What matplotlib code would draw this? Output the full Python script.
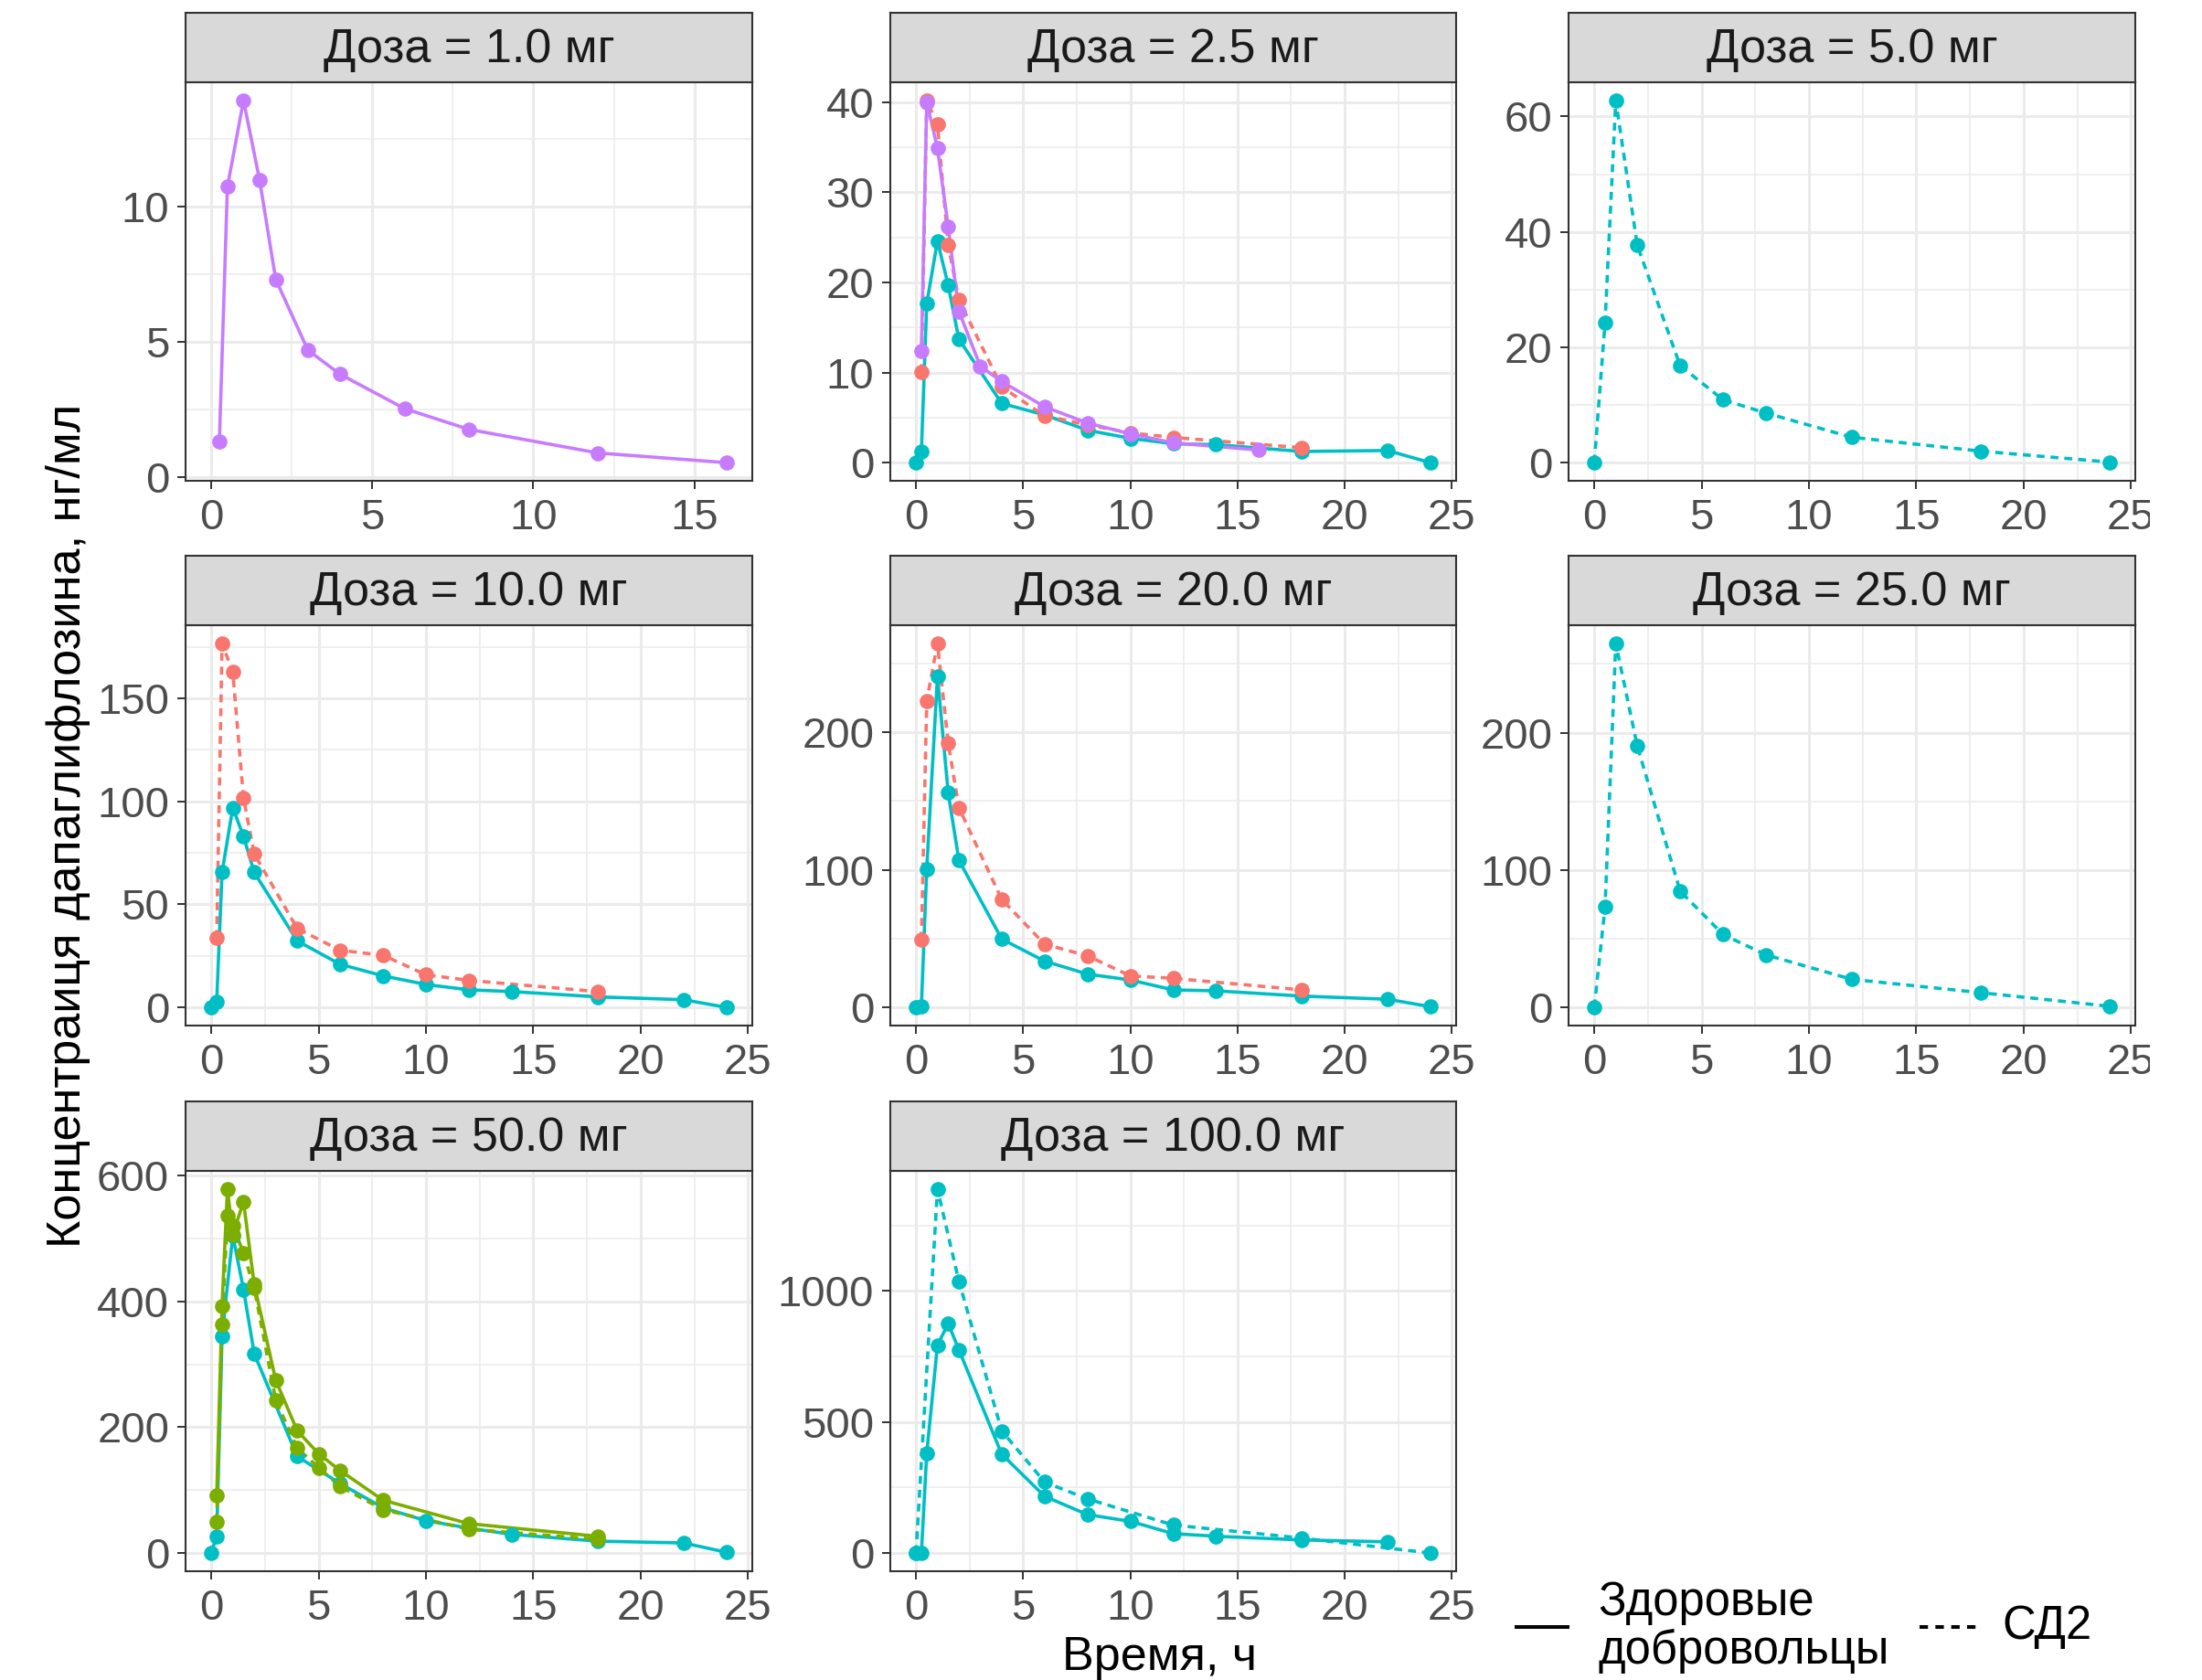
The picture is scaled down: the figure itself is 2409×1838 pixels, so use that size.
import matplotlib
matplotlib.use("Agg")
import matplotlib.pyplot as plt
from matplotlib.ticker import MultipleLocator, AutoMinorLocator, FuncFormatter
from matplotlib.lines import Line2D
from matplotlib.patches import Rectangle

plt.rcParams['font.family'] = ['Liberation Sans', 'DejaVu Sans']

# ---------------------------------------------------------------- data
doses = [1.0, 2.5, 5.0, 10.0, 20.0, 25.0, 50.0, 100.0]

# 1.0 mg
t_d1_purple_h = [0.25, 0.5, 1, 1.5, 2, 3, 4, 6, 8, 12, 16]
c_d1_purple_h = [1.32, 10.74, 13.94, 10.99, 7.32, 4.70, 3.81, 2.54, 1.77, 0.90, 0.54]

# 2.5 mg
t_d2_cyan_h = [0, 0.25, 0.5, 1, 1.5, 2, 4, 6, 8, 10, 12, 14, 18, 22, 24]
c_d2_cyan_h = [0, 1.24, 17.66, 24.6, 19.7, 13.7, 6.57, 5.3, 3.6, 2.7, 2.1, 2.0, 1.24, 1.35, 0]
t_d2_red_t2 = [0.25, 0.5, 1, 1.5, 2, 4, 6, 8, 10, 12, 18]
c_d2_red_t2 = [10.05, 40.2, 37.5, 24.2, 18.05, 8.4, 5.2, 4.2, 3.3, 2.8, 1.66]
t_d2_purple_h = [0.25, 0.5, 1, 1.5, 2, 3, 4, 6, 8, 10, 12, 16]
c_d2_purple_h = [12.44, 40.0, 34.9, 26.2, 16.8, 10.7, 9.0, 6.2, 4.4, 3.2, 2.2, 1.4]

# 5.0 mg
t_d5_cyan_t2 = [0, 0.5, 1, 2, 4, 6, 8, 12, 18, 24]
c_d5_cyan_t2 = [0, 24.3, 62.8, 37.7, 16.8, 10.9, 8.6, 4.4, 2.0, 0.1]

# 10.0 mg
t_d10_cyan_h = [0, 0.25, 0.5, 1, 1.5, 2, 4, 6, 8, 10, 12, 14, 18, 22, 24]
c_d10_cyan_h = [0, 2.55, 65.5, 96.9, 83, 65.5, 32.3, 20.9, 15.3, 11.1, 8.5, 7.65, 5.1, 3.7, 0]
t_d10_red_t2 = [0.25, 0.5, 1, 1.5, 2, 4, 6, 8, 10, 12, 18]
c_d10_red_t2 = [33.7, 176.7, 162.8, 101.5, 74.5, 38.3, 27.7, 25.3, 15.8, 13.1, 7.65]

# 20.0 mg
t_d20_cyan_h = [0, 0.25, 0.5, 1, 1.5, 2, 4, 6, 8, 10, 12, 14, 18, 22, 24]
c_d20_cyan_h = [0, 1, 100.6, 240.8, 156.2, 107, 49.7, 33.6, 24.2, 19.9, 12.7, 12.0, 8.2, 5.9, 0.5]
t_d20_red_t2 = [0.25, 0.5, 1, 1.5, 2, 4, 6, 8, 10, 12, 18]
c_d20_red_t2 = [49.2, 222.9, 264.7, 192.4, 145.2, 78.5, 45.9, 37.5, 22.9, 21.1, 12.7]

# 25.0 mg
t_d25_cyan_t2 = [0, 0.5, 1, 2, 4, 6, 8, 12, 18, 24]
c_d25_cyan_t2 = [0, 73.1, 265, 190.3, 84.6, 53, 38.2, 20.4, 10.7, 0.8]

# 50.0 mg
t_d50_cyan_h = [0, 0.25, 0.5, 1, 1.5, 2, 4, 6, 8, 10, 12, 14, 18, 22, 24]
c_d50_cyan_h = [0, 26.6, 345, 505, 419, 317, 153.7, 110.5, 72, 51.4, 39.6, 29.6, 18.9, 16, 1.2]
t_d50_green_h = [0.25, 0.5, 0.75, 1, 1.5, 2, 3, 4, 5, 6, 8, 12, 18]
c_d50_green_h = [91, 392.5, 578.7, 506.6, 558.6, 426.8, 275, 194.5, 157.8, 131.2, 84, 46.7, 26.6]
t_d50_green_t2 = [0.25, 0.5, 0.75, 1, 1.5, 2, 3, 4, 5, 6, 8, 12, 18]
c_d50_green_t2 = [50, 363.5, 536, 521, 477, 421, 243.5, 166.7, 136, 105.8, 69, 37.8, 21.9]

# 100.0 mg
t_d100_cyan_h = [0, 0.25, 0.5, 1, 1.5, 2, 4, 6, 8, 10, 12, 14, 18, 22]
c_d100_cyan_h = [0, 0, 380, 793, 876, 776, 377, 216.5, 146.7, 121, 74, 64, 50, 42.7]
t_d100_cyan_t2 = [0, 1, 2, 4, 6, 8, 12, 18, 24]
c_d100_cyan_t2 = [0, 1389, 1037, 466, 270.7, 206.6, 106.8, 57, 0]

cohort_labels = ["Здоровые\nдобровольцы", "СД2"]
x_title = "Время, ч"
y_title = "Концентраиця дапаглифлозина, нг/мл"

# (dose, source colour, cohort, times, concentrations)
curves = [
    (1.0, "purple", "h", t_d1_purple_h, c_d1_purple_h),
    (2.5, "cyan", "h", t_d2_cyan_h, c_d2_cyan_h),
    (2.5, "red", "t2", t_d2_red_t2, c_d2_red_t2),
    (2.5, "purple", "h", t_d2_purple_h, c_d2_purple_h),
    (5.0, "cyan", "t2", t_d5_cyan_t2, c_d5_cyan_t2),
    (10.0, "cyan", "h", t_d10_cyan_h, c_d10_cyan_h),
    (10.0, "red", "t2", t_d10_red_t2, c_d10_red_t2),
    (20.0, "cyan", "h", t_d20_cyan_h, c_d20_cyan_h),
    (20.0, "red", "t2", t_d20_red_t2, c_d20_red_t2),
    (25.0, "cyan", "t2", t_d25_cyan_t2, c_d25_cyan_t2),
    (50.0, "cyan", "h", t_d50_cyan_h, c_d50_cyan_h),
    (50.0, "green", "h", t_d50_green_h, c_d50_green_h),
    (50.0, "green", "t2", t_d50_green_t2, c_d50_green_t2),
    (100.0, "cyan", "h", t_d100_cyan_h, c_d100_cyan_h),
    (100.0, "cyan", "t2", t_d100_cyan_t2, c_d100_cyan_t2),
]

# ---------------------------------------------------------------- style
palette = {"red": "#F8766D", "green": "#7CAE00", "cyan": "#00BFC4", "purple": "#C77CFF"}
draw_order = ["cyan", "green", "red", "purple"]
dotted = (0, (2.4, 1.8))
line_styles = {"h": "-", "t2": dotted}
y_steps = {1.0: 5, 2.5: 10, 5.0: 20, 10.0: 50, 20.0: 100, 25.0: 100, 50.0: 200, 100.0: 500}

W, H, DPI = 2409, 1838, 100
cols = [(203, 823), (974, 1593), (1716, 2336)]
rows = [(90, 526), (684, 1122), (1281, 1719)]
strip_h = 76

TICK_FS = 34
STRIP_FS = 37.5
TITLE_FS = 37.5
LEGEND_FS = 36.5
LW = 2.6
MS = 12
BORDER = "#333333"

fig = plt.figure(figsize=(W / DPI, H / DPI), dpi=DPI, facecolor="white")


def px_axes(x0, x1, y0, y1, **kw):
    return fig.add_axes([x0 / W, 1 - y1 / H, (x1 - x0) / W, (y1 - y0) / H], **kw)


fmt = FuncFormatter(lambda v, _: f"{v:g}")

for i, dose in enumerate(doses):
    r, c = divmod(i, 3)
    x0, x1 = cols[c]
    y0, y1 = rows[r]
    ax = px_axes(x0, x1, y0, y1)
    ax.set_facecolor("white")

    panel = [cv for cv in curves if cv[0] == dose]
    panel.sort(key=lambda cv: draw_order.index(cv[1]))

    for _, col, coh, t, conc in panel:
        ax.plot(t, conc, color=palette[col], lw=LW, ls=line_styles[coh],
                solid_capstyle="round", dash_capstyle="butt", zorder=3)
    for _, col, coh, t, conc in panel:
        ax.plot(t, conc, ls="none", marker="o", ms=MS, mec="none",
                color=palette[col], zorder=4)

    # ggplot-like 5 % expansion of the data range
    all_t = [v for cv in panel for v in cv[3]]
    all_c = [v for cv in panel for v in cv[4]]
    tlo, thi = min(0, min(all_t)), max(all_t)
    clo, chi = min(all_c), max(all_c)
    ax.set_xlim(tlo - 0.05 * (thi - tlo), thi + 0.05 * (thi - tlo))
    ax.set_ylim(clo - 0.05 * (chi - clo), chi + 0.05 * (chi - clo))

    ax.xaxis.set_major_locator(MultipleLocator(5))
    ax.yaxis.set_major_locator(MultipleLocator(y_steps[dose]))
    ax.xaxis.set_minor_locator(AutoMinorLocator(2))
    ax.yaxis.set_minor_locator(AutoMinorLocator(2))
    ax.xaxis.set_major_formatter(fmt)
    ax.yaxis.set_major_formatter(fmt)

    ax.grid(which="major", color="#EBEBEB", lw=2.2, zorder=0)
    ax.grid(which="minor", color="#EBEBEB", lw=1.1, zorder=0)
    ax.set_axisbelow(True)

    ax.tick_params(which="major", length=6.8, width=1.4, color=BORDER,
                   labelsize=TICK_FS, labelcolor="#4D4D4D")
    ax.tick_params(axis="x", which="major", pad=7)
    ax.tick_params(axis="y", which="major", pad=6)
    ax.tick_params(which="minor", length=0)
    for sp in ax.spines.values():
        sp.set_color(BORDER)
        sp.set_linewidth(1.5)
        sp.set_zorder(5)

    # facet strip
    sax = px_axes(x0, x1, y0 - strip_h, y0)
    sax.set_facecolor("#D9D9D9")
    sax.set_xticks([])
    sax.set_yticks([])
    for sp in sax.spines.values():
        sp.set_color(BORDER)
        sp.set_linewidth(1.5)
    sax.text(0.5, 0.47, f"Доза = {dose:.1f} мг", transform=sax.transAxes,
             ha="center", va="center", fontsize=STRIP_FS, color="#1A1A1A")

# right-hand margin of the canvas trims the outermost tick labels
fig.add_artist(Rectangle((2352 / W, 0), 1 - 2352 / W, 1, transform=fig.transFigure,
                         facecolor="white", edgecolor="none", zorder=20))

# axis titles
fig.text(1268 / W, 1 - 1814 / H, x_title, ha="center", va="center",
         fontsize=TITLE_FS, color="black")
fig.text(75 / W, 1 - 903 / H, y_title, ha="center", va="center", rotation=90,
         fontsize=TITLE_FS, color="black")

# linetype legend
ly = 1 - 1780 / H
fig.add_artist(Line2D([1657 / W, 1717 / W], [ly, ly], transform=fig.transFigure,
                      color="black", lw=2.9, solid_capstyle="butt"))
fig.add_artist(Line2D([2100 / W, 2162 / W], [ly, ly], transform=fig.transFigure,
                      color="black", lw=2.9, ls=(0, (2.3, 2.0)), dash_capstyle="butt"))
fig.text(1748 / W, ly, cohort_labels[0], ha="left", va="center",
         fontsize=LEGEND_FS, color="black", linespacing=1.12)
fig.text(2190 / W, ly, cohort_labels[1], ha="left", va="center",
         fontsize=LEGEND_FS, color="black")

fig.savefig("out.png", dpi=DPI, facecolor="white")
